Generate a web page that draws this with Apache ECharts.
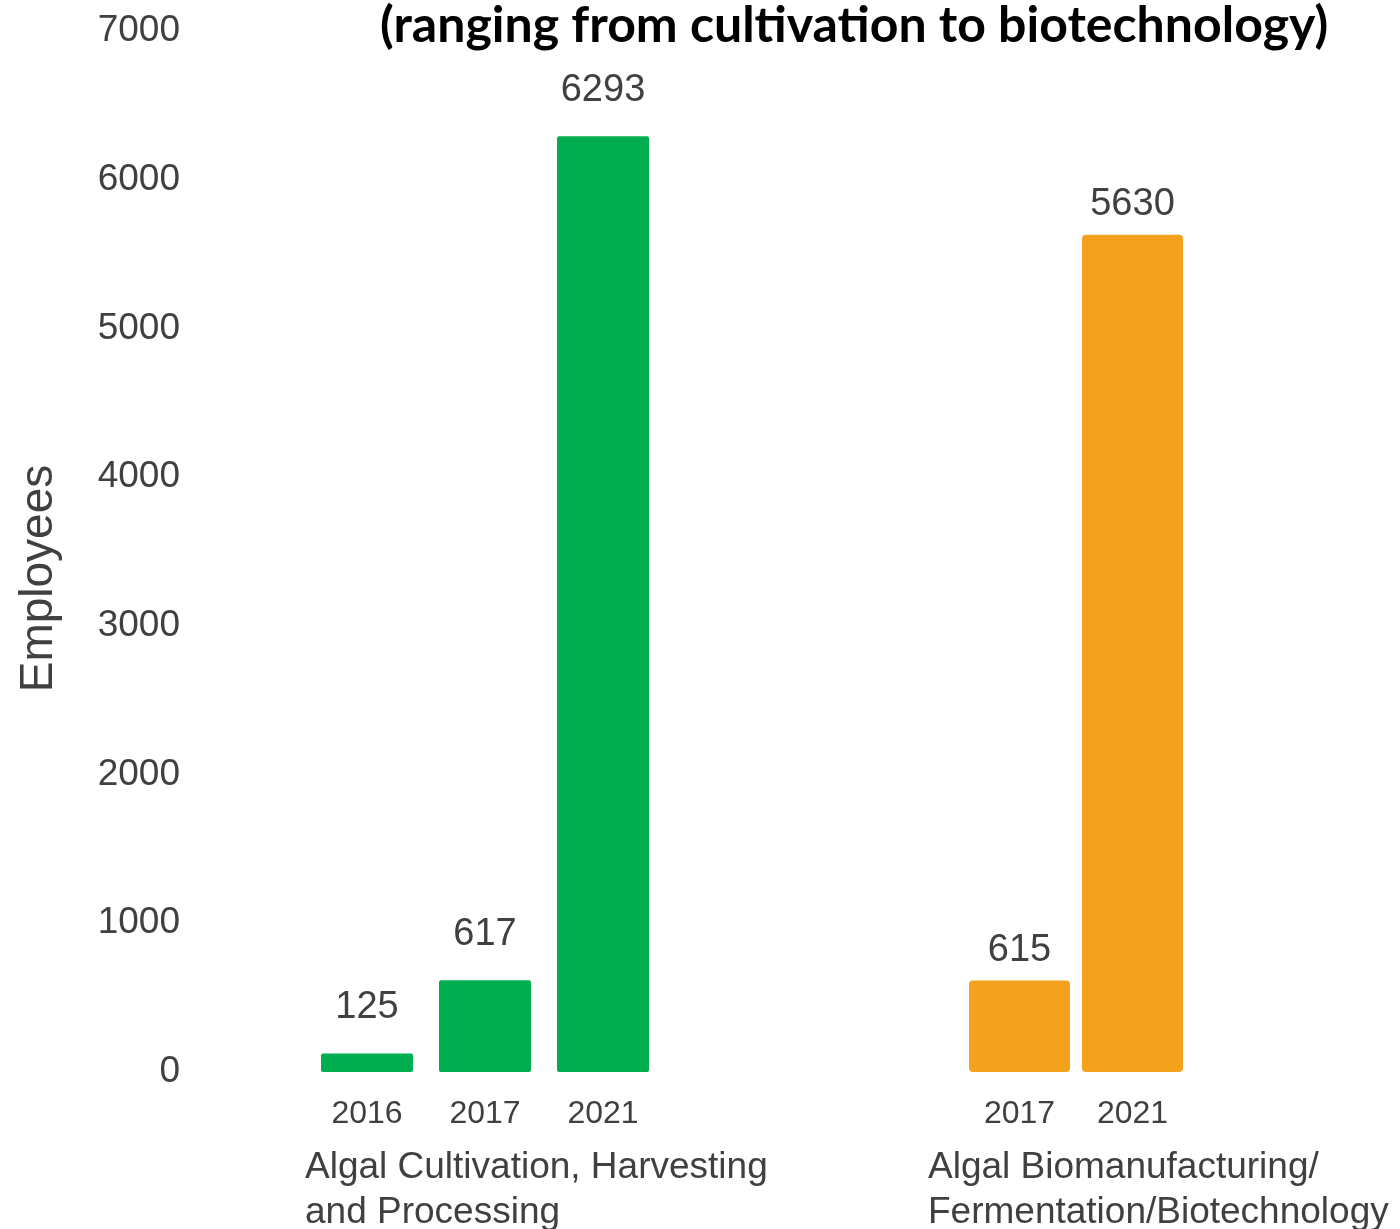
<!DOCTYPE html>
<html><head><meta charset="utf-8">
<script src="https://cdn.jsdelivr.net/npm/echarts@6/dist/echarts.min.js"></script>
<style>html,body{margin:0;padding:0;background:#fff}#c{width:1400px;height:1229px}</style>
</head><body><div id="c"></div>
<script>
const titleText = '(ranging from cultivation to biotechnology)';
const yAxisName = 'Employees';
const yMin = 0, yMax = 7000, yStep = 1000;
const cultivationYears = ['2016', '2017', '2021'];
const cultivationValues = [125, 617, 6293];
const biomanYears = ['2017', '2021'];
const biomanValues = [615, 5630];
const groupNames = ['Algal Cultivation, Harvesting\nand Processing', 'Algal Biomanufacturing/\nFermentation/Biotechnology'];

const TXT = '#404040';
const FONT = 'Liberation Sans, Arial, sans-serif';
const chart = echarts.init(document.getElementById('c'), null, {renderer: 'canvas'});

function xAxisFor(gridIndex, cats, name, gap) {
  return {
    type: 'category', gridIndex, data: cats,
    axisLine: {show: false}, axisTick: {show: false},
    axisLabel: {color: TXT, fontSize: 32, fontFamily: FONT, margin: 26},
    name, nameLocation: 'start', nameGap: gap, nameMoveOverlap: false,
    nameTextStyle: {color: TXT, fontSize: 37, fontFamily: FONT, align: 'left', verticalAlign: 'top', lineHeight: 45, padding: [73, 0, 0, 0]}
  };
}

chart.setOption({
  backgroundColor: '#fff',
  animation: false,
  title: {
    text: titleText, left: 380, top: 1, padding: 0,
    textStyle: {fontFamily: 'Lato', fontWeight: 'bold', fontSize: 50, color: '#000'}
  },
  grid: [
    {left: 308, width: 354, top: 31, bottom: 157, containLabel: false, outerBoundsMode: 'none'},
    {left: 963, width: 226, top: 31, bottom: 157, containLabel: false, outerBoundsMode: 'none'}
  ],
  xAxis: [
    xAxisFor(0, cultivationYears, groupNames[0], 3),
    xAxisFor(1, biomanYears, groupNames[1], 35)
  ],
  yAxis: [
    {
      type: 'value', gridIndex: 0, min: yMin, max: yMax, interval: yStep,
      axisLine: {show: false}, axisTick: {show: false}, splitLine: {show: false},
      axisLabel: {color: TXT, fontSize: 37, fontFamily: FONT, margin: 128, formatter: v => String(v)},
      name: yAxisName, nameLocation: 'middle', nameGap: 246, nameMoveOverlap: false,
      nameTextStyle: {color: TXT, fontSize: 46, fontFamily: FONT, padding: [0, 54, 0, 0]}
    },
    {
      type: 'value', gridIndex: 1, min: yMin, max: yMax, interval: yStep, show: false
    }
  ],
  series: [
    {
      type: 'bar', xAxisIndex: 0, yAxisIndex: 0, data: cultivationValues, barWidth: 92,
      itemStyle: {color: '#00AE50', borderRadius: 2},
      label: {show: true, position: 'top', distance: 27, color: TXT, fontSize: 38, fontFamily: FONT}
    },
    {
      type: 'bar', xAxisIndex: 1, yAxisIndex: 1, data: biomanValues, barWidth: 101,
      itemStyle: {color: '#F4A11D', borderRadius: 4},
      label: {show: true, position: 'top', distance: 11, color: TXT, fontSize: 38, fontFamily: FONT}
    }
  ]
});
</script></body></html>
